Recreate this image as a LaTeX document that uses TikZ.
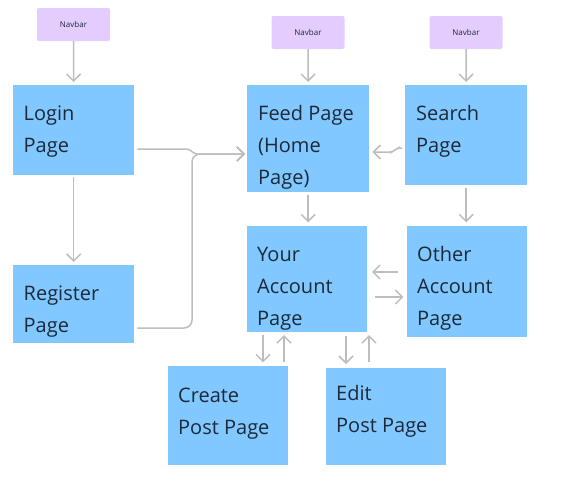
\documentclass[tikz,border=0pt]{standalone}
\usepackage{fontspec}
\setmainfont{Open Sans}
\usetikzlibrary{arrows.meta}

\definecolor{pageblue}{HTML}{80C8FF}
\definecolor{navpurple}{HTML}{E5CCFF}
\definecolor{linkgray}{HTML}{BDBDBD}
\definecolor{inkdark}{HTML}{1D2939}

% text block of a page box, set from the top
\newcommand{\pagelabel}[3][35pt]{\parbox[c][#2][t]{100pt}{\rule{0pt}{#1}#3}}

\begin{document}
\begin{tikzpicture}[x=1pt, y=-1pt,
    page/.style={fill=pageblue, anchor=north west, inner xsep=10pt, inner ysep=0pt, text=inkdark, font=\fontsize{20}{32}\selectfont},
    nav/.style={fill=navpurple, rounded corners=2pt, minimum width=73pt, minimum height=33pt, inner sep=0pt, text=inkdark, font=\fontsize{8}{10}\selectfont},
    link/.style={draw=linkgray, line width=1.5pt, -{Straight Barb[length=7pt, width=14pt]}},]
    \useasboundingbox (0,0) rectangle (581,482);

    % navbars
    \node[nav] (nav1) at (73.5,24.5) {Navbar};
    \node[nav] (nav2) at (308,32.5) {Navbar};
    \node[nav] (nav3) at (466,32.5) {Navbar};

    % pages
    \node[page, minimum width=121pt] (login) at (13,85) {\pagelabel{90pt}{Login\\Page}};
    \node[page, minimum width=122pt] (feed) at (247,85) {\pagelabel{107pt}{Feed Page\\(Home\\Page)}};
    \node[page, minimum width=122pt] (search) at (405,85) {\pagelabel{100pt}{Search\\Page}};
    \node[page, minimum width=121pt] (register) at (13,265) {\pagelabel{78pt}{Register\\Page}};
    \node[page, minimum width=119pt] (youracc) at (247,226) {\pagelabel{106pt}{Your\\Account\\Page}};
    \node[page, minimum width=119pt] (other) at (407,226) {\pagelabel{111pt}{Other\\Account\\Page}};
    \node[page, minimum width=120pt] (create) at (168,366) {\pagelabel[36pt]{99pt}{Create\\Post Page}};
    \node[page, minimum width=119pt] (edit) at (326,368) {\pagelabel[32pt]{97pt}{Edit\\Post Page}};

    % navbar links
    \draw[link, shorten >=3pt] (nav1) -- (login);
    \draw[link, shorten >=3pt] (nav2) -- (feed);
    \draw[link, shorten >=3pt] (nav3) -- (search);

    \draw[link, shorten <=2pt, shorten >=3pt] (login) -- (register);
    \draw[link, rounded corners=3pt, shorten <=3pt, shorten >=2pt]
        ([shift={(0,64)}]login.north east) -- ++(55,0) -- ++(5,5) -- ([shift={(0,69)}]feed.north west);
    \draw[link, rounded corners=8pt, shorten <=3pt, shorten >=2pt]
        ([shift={(0,63)}]register.north east) -| ([shift={(-55,69)}]feed.north west) -- ([shift={(0,69)}]feed.north west);
    \draw[link, rounded corners=3pt, shorten <=3pt, shorten >=3pt]
        ([shift={(0,63)}]search.north west) -- ++(-8,0) -- ++(-4,4) -- ([shift={(0,67)}]feed.north east);

    \draw[link, shorten <=3pt] (feed.south) -- ++(0,30);
    \draw[link, shorten <=3pt] (search.south) -- ++(0,37);

    % account pages
    \draw[link] ([shift={(-9,46)}]other.north west) -- ++(-26,0);
    \draw[link] ([shift={(8,71)}]youracc.north east) -- ++(28,0);

    % post pages
    \draw[link] ([shift={(16,3)}]youracc.south west) -- ++(0,27);
    \draw[link] ([shift={(37,-4)}]create.north west -| youracc.south west) -- ++(0,-27);
    \draw[link] ([shift={(20,-32)}]edit.north west) -- ++(0,28);
    \draw[link] ([shift={(43,-6)}]edit.north west) -- ++(0,-27);
\end{tikzpicture}
\end{document}
